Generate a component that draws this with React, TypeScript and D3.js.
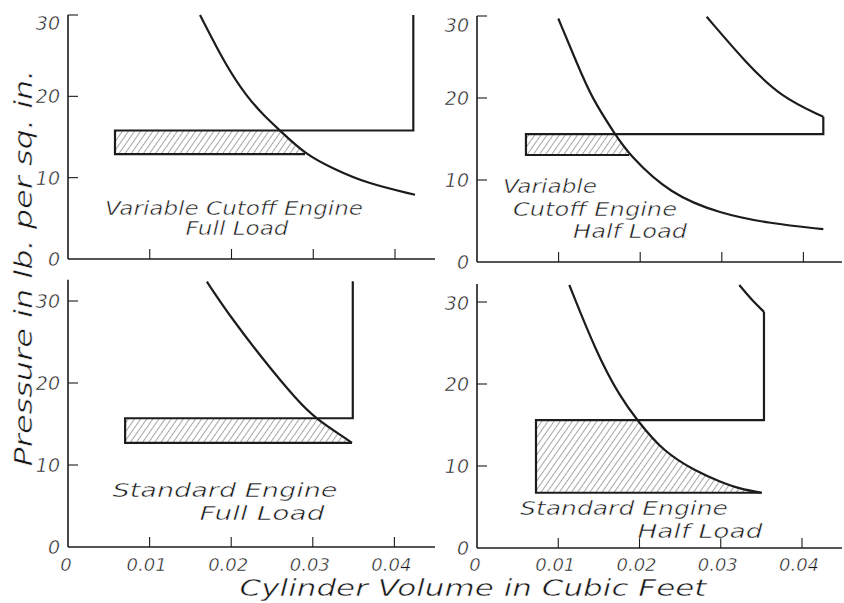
import React from 'react';
import * as d3 from 'd3';

type Pt = [number, number];

// ---------- axis ticks ----------
const xTickValues = [0, 0.01, 0.02, 0.03, 0.04];
const xTickLabels = ['0', '0.01', '0.02', '0.03', '0.04'];
const yTickValues = [0, 10, 20, 30];
const yTickLabels = ['0', '10', '20', '30'];

const xAxisTitle = 'Cylinder Volume in Cubic Feet';
const yAxisTitle = 'Pressure in lb. per sq. in.';

// ---------- Variable Cutoff Engine, Full Load ----------
const vcFullExpansion: Pt[] = [
  [0.01615, 30.0], [0.01941, 23.6], [0.02186, 20.0], [0.02389, 17.7],
  [0.02593, 15.8], [0.02899, 12.9], [0.03245, 11.1], [0.03654, 9.3], [0.04245, 7.9],
];
const vcFullOutline: Pt[] = [
  [0.02899, 12.9], [0.00575, 12.9], [0.00575, 15.8], [0.04224, 15.8], [0.04224, 30.0],
];
const vcFullText = ['Variable Cutoff Engine', 'Full Load'];

// ---------- Variable Cutoff Engine, Half Load ----------
const vcHalfExpansion: Pt[] = [
  [0.00996, 29.7], [0.01222, 24.3], [0.01406, 20.0], [0.01691, 15.6],
  [0.01866, 13.05], [0.02365, 8.3], [0.02978, 5.9], [0.03591, 4.7], [0.04244, 4.0],
];
const vcHalfOutline: Pt[] = [
  [0.01866, 13.05], [0.0060, 13.05], [0.0060, 15.6], [0.04244, 15.6], [0.04244, 17.7],
];
const vcHalfCompression: Pt[] = [
  [0.02815, 29.9], [0.03305, 24.2], [0.03713, 20.2], [0.04244, 17.7],
];
const vcHalfText = ['Variable', 'Cutoff Engine', 'Half Load'];

// ---------- Standard Engine, Full Load ----------
const stFullExpansion: Pt[] = [
  [0.01702, 32.35], [0.01988, 28.1], [0.02396, 22.8], [0.02806, 17.9],
  [0.0303, 15.7], [0.0340, 13.26], [0.0348, 12.7],
];
const stFullOutline: Pt[] = [
  [0.0348, 12.7], [0.0070, 12.7], [0.0070, 15.7], [0.0349, 15.7], [0.0349, 32.4],
];
const stFullText = ['Standard Engine', 'Full Load'];

// ---------- Standard Engine, Half Load ----------
const stHalfExpansion: Pt[] = [
  [0.01136, 32.07], [0.01473, 23.74], [0.0176, 18.45], [0.0197, 15.6],
  [0.02293, 11.74], [0.02704, 9.3], [0.0299, 8.1], [0.03237, 7.2], [0.03504, 6.74],
];
const stHalfOutline: Pt[] = [
  [0.03504, 6.74], [0.00726, 6.74], [0.00726, 15.6], [0.03532, 15.6], [0.03532, 28.8],
];
const stHalfCompression: Pt[] = [
  [0.03532, 28.8], [0.0340, 30.04], [0.03228, 32.07],
];
const stHalfText = ['Standard Engine', 'Half Load'];

// ---------- layout (pixels) ----------
type Spec = {
  id: string;
  left: number; bottom: number; xSpan: number; ySpan: number;
  axisTop: number; axisEnd: number; showXLabels: boolean; topLabelShift: number;
  expansion: Pt[]; outline: Pt[]; compression?: Pt[];
  text: string[]; textPos: { cx: number; by: number; w: number }[];
};

const panels: Spec[] = [
  {
    id: 'tl', left: 68, bottom: 259, xSpan: 327, ySpan: 244, axisTop: 30, axisEnd: 435,
    showXLabels: false, topLabelShift: 15,
    expansion: vcFullExpansion, outline: vcFullOutline, text: vcFullText,
    textPos: [{ cx: 234, by: 215, w: 258 }, { cx: 237, by: 235, w: 103 }],
  },
  {
    id: 'tr', left: 477, bottom: 262, xSpan: 326.4, ySpan: 246, axisTop: 30, axisEnd: 842,
    showXLabels: false, topLabelShift: 16,
    expansion: vcHalfExpansion, outline: vcHalfOutline, compression: vcHalfCompression, text: vcHalfText,
    textPos: [{ cx: 550, by: 193, w: 94 }, { cx: 595, by: 216, w: 164 }, { cx: 630, by: 238, w: 114 }],
  },
  {
    id: 'bl', left: 68, bottom: 547, xSpan: 326.4, ySpan: 246, axisTop: 32.6, axisEnd: 435,
    showXLabels: true, topLabelShift: 7,
    expansion: stFullExpansion, outline: stFullOutline, text: stFullText,
    textPos: [{ cx: 225, by: 497, w: 225 }, { cx: 262, by: 520, w: 125 }],
  },
  {
    id: 'br', left: 477, bottom: 548, xSpan: 325, ySpan: 246, axisTop: 32.2, axisEnd: 842,
    showXLabels: true, topLabelShift: 8,
    expansion: stHalfExpansion, outline: stHalfOutline, compression: stHalfCompression, text: stHalfText,
    textPos: [{ cx: 624, by: 515, w: 208 }, { cx: 700, by: 538, w: 125 }],
  },
];

const INK = '#1c1c1c';
const TEXT = '#161616';
const FONT = '"DejaVu Sans", "Liberation Sans", sans-serif';

// thin "lettering" look: a white outline painted over the glyph fill erodes the strokes
const letterStyle = {
  fontFamily: FONT,
  fontStyle: 'italic' as const,
  fill: TEXT,
  stroke: '#fff',
  strokeWidth: 0.5,
  paintOrder: 'fill' as const,
};

function Panel({ s }: { s: Spec }) {
  const x = d3.scaleLinear().domain([0, 0.04]).range([s.left, s.left + s.xSpan]);
  const y = d3.scaleLinear().domain([0, 30]).range([s.bottom, s.bottom - s.ySpan]);
  const straight = d3.line<Pt>().x(d => x(d[0])).y(d => y(d[1]));
  const smooth = d3.line<Pt>().x(d => x(d[0])).y(d => y(d[1])).curve(d3.curveBasis);

  const curveD = smooth(s.expansion) || '';
  const first = s.expansion[0];
  const last = s.expansion[s.expansion.length - 1];
  const clipD = `M${s.left},${y(first[1])}L${curveD.slice(1)}L${x(last[0])},${y(0)}L${s.left},${y(0)}Z`;

  const hLeft = s.outline[1][0];
  const hBottom = s.outline[0][1];
  const hTop = s.outline[2][1];
  const hRight = s.outline[3][0];

  const compSorted = s.compression ? [...s.compression].sort((a, b) => a[0] - b[0]) : null;

  return (
    <g>
      <defs>
        <clipPath id={`clip-${s.id}`}>
          <path d={clipD} />
        </clipPath>
      </defs>
      {/* hatch */}
      <rect
        x={x(hLeft)} y={y(hTop)} width={x(hRight) - x(hLeft)} height={y(hBottom) - y(hTop)}
        fill="url(#hatch)" clipPath={`url(#clip-${s.id})`}
      />
      {/* axes */}
      <line x1={s.left} y1={y(0)} x2={s.axisEnd} y2={y(0)} stroke={INK} strokeWidth={1.6} />
      <line x1={s.left} y1={y(0)} x2={s.left} y2={y(s.axisTop)} stroke={INK} strokeWidth={1.6} />
      {xTickValues.slice(1).map(v => (
        <line key={`xt${v}`} x1={x(v)} x2={x(v)} y1={y(0)} y2={y(0) - 10} stroke={INK} strokeWidth={1.1} />
      ))}
      {yTickValues.slice(1).map(v => (
        <line key={`yt${v}`} x1={s.left} x2={s.left + 10} y1={y(v)} y2={y(v)} stroke={INK} strokeWidth={1.1} />
      ))}
      {yTickValues.map((v, i) => (
        <text key={`yl${v}`} x={s.left - 8} y={y(v) + (v === 30 ? s.topLabelShift : 7)}
          textAnchor="end" fontSize={19} style={letterStyle}>
          {yTickLabels[i]}
        </text>
      ))}
      {s.showXLabels && xTickValues.map((v, i) => (
        <text key={`xl${v}`} x={x(v) - (i === 0 ? 2 : 3)} y={571}
          textAnchor="middle" fontSize={18} style={letterStyle}>
          {xTickLabels[i]}
        </text>
      ))}
      {/* diagram */}
      <path d={straight(s.outline) || ''} fill="none" stroke={INK} strokeWidth={2.2} strokeLinejoin="miter" />
      <path d={curveD} fill="none" stroke={INK} strokeWidth={2.2} />
      {compSorted && (
        <path d={smooth(compSorted) || ''} fill="none" stroke={INK} strokeWidth={2.2} />
      )}
      {s.text.map((t, i) => (
        <text key={t} x={s.textPos[i].cx} y={s.textPos[i].by} textAnchor="middle"
          textLength={s.textPos[i].w} lengthAdjust="spacingAndGlyphs"
          fontSize={19} style={letterStyle}>
          {t}
        </text>
      ))}
    </g>
  );
}

export default function App() {
  return (
    <svg width={844} height={603} viewBox="0 0 844 603"
      style={{ position: 'absolute', left: 0, top: 0, display: 'block', background: '#fff' }}>
      <defs>
        <pattern id="hatch" patternUnits="userSpaceOnUse" width={5} height={5} patternTransform="rotate(35)">
          <line x1={0} y1={-1} x2={0} y2={6} stroke="#3a3a3a" strokeWidth={0.9} />
        </pattern>
      </defs>
      <rect x={0} y={0} width={844} height={603} fill="#fff" />
      {panels.map(p => <Panel key={p.id} s={p} />)}
      <text x={473} y={596} textAnchor="middle" textLength={467} lengthAdjust="spacingAndGlyphs"
        fontSize={23} style={letterStyle}>
        {xAxisTitle}
      </text>
      <text transform="translate(32,268) rotate(-90)" textAnchor="middle" textLength={397} lengthAdjust="spacingAndGlyphs"
        fontSize={24} style={letterStyle}>
        {yAxisTitle}
      </text>
    </svg>
  );
}
